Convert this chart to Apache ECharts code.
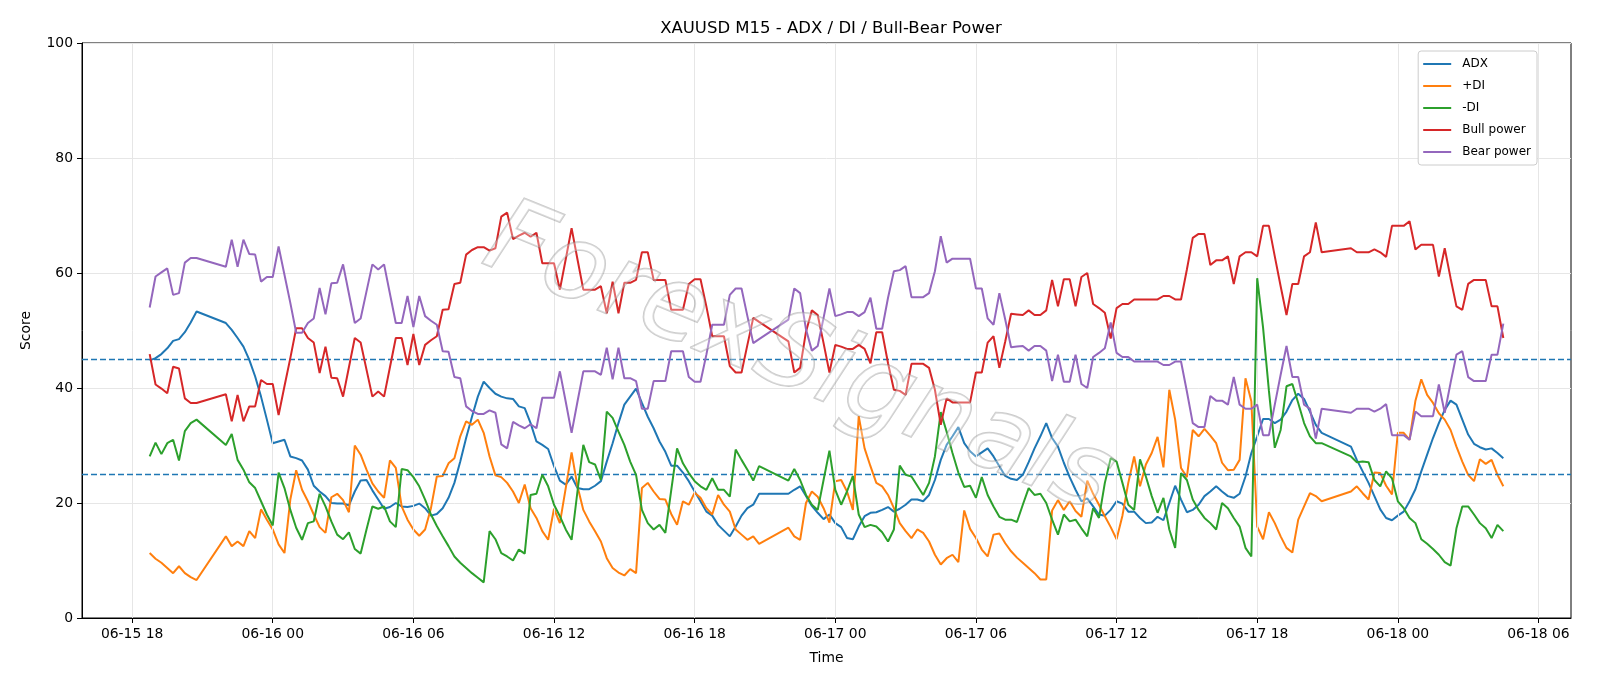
<!DOCTYPE html>
<html>
<head>
<meta charset="utf-8">
<title>XAUUSD M15 - ADX / DI / Bull-Bear Power</title>
<script src="https://cdn.jsdelivr.net/npm/echarts@6/dist/echarts.min.js"></script>
<style>
html, body { margin: 0; padding: 0; background: #fff; }
#chart { width: 1600px; height: 686px; }
</style>
</head>
<body>
<div id="chart"></div>
<script>
// 15-minute bars; the market closes every day 21:00-22:00 so there are gaps
const SESSIONS = [
  ['06-15 18:45', '06-15 20:45'],
  ['06-15 22:00', '06-16 20:45'],
  ['06-16 22:00', '06-17 20:45'],
  ['06-17 22:00', '06-18 04:30']
]

const ADX = [
  44.8, 45.2, 45.9, 46.9, 48.2, 48.5, 49.7, 51.4, 53.3,
  51.3, 50.1, 48.7, 47.2, 44.9, 42.0, 38.5, 34.5, 30.4, 30.7, 31.0, 28.1, 27.8, 27.4, 25.8, 23.0,
  22.0, 21.2, 20.0, 19.9, 19.9, 19.6, 22.0, 23.9, 24.0, 22.2, 20.6, 19.0, 19.3, 20.0, 19.4, 19.3,
  19.5, 19.9, 19.1, 17.8, 18.1, 19.1, 20.9, 23.5, 27.2, 31.3, 35.0, 38.5, 41.1, 40.0, 39.0, 38.5,
  38.2, 38.1, 36.8, 36.5, 33.9, 30.7, 30.1, 29.4, 26.4, 23.9, 23.2, 24.6, 22.6, 22.4, 22.4, 23.0,
  23.8, 27.2, 30.4, 33.9, 37.1, 38.5, 39.9, 37.4, 35.0, 33.0, 30.7, 28.9, 26.5, 26.5, 25.3, 23.8,
  22.0, 20.3, 18.5, 17.8, 16.2, 15.2, 14.2, 15.9, 17.8, 19.1, 19.7, 21.6,
  21.6, 22.3, 22.9, 21.2, 19.5, 18.3, 17.2, 18.0, 16.5, 15.8, 13.9, 13.7, 15.9, 17.7, 18.3, 18.4,
  18.8, 19.3, 18.5, 19.0, 19.7, 20.6, 20.6, 20.3, 21.4, 24.0, 27.5, 30.1, 31.6, 33.2, 30.4, 29.0,
  28.1, 28.8, 29.5, 28.1, 26.4, 24.7, 24.2, 24.0, 24.9, 27.1, 29.5, 31.6, 33.9, 31.3, 29.8, 27.0,
  24.5, 22.3, 20.3, 20.8, 19.4, 18.0, 17.8, 18.8, 20.3, 19.9, 18.5, 18.5, 17.4, 16.5, 16.6, 17.6,
  17.0, 20.0, 23.0, 20.6, 18.4, 18.8, 19.7, 21.2, 22.0, 22.9, 22.0, 21.2, 20.9, 21.6, 24.6, 28.7,
  31.6, 34.6, 34.6, 33.9, 34.5, 35.9, 37.9, 39.0, 38.1, 35.9, 33.6, 32.2,
  29.8, 27.5, 25.5, 23.5, 21.2, 18.9, 17.4, 17.0, 17.8, 18.5, 20.3, 22.4, 25.5, 28.4, 31.3, 33.9,
  36.2, 37.8, 37.1, 34.5, 31.9, 30.3, 29.7, 29.3, 29.5, 28.7, 27.8
]

const PLUS_DI = [
  11.3, 10.3, 9.6, 8.7, 7.8, 9.0, 7.8, 7.1, 6.6,
  14.2, 12.5, 13.3, 12.5, 15.1, 13.9, 18.9, 17.1, 15.4, 12.8, 11.3, 20.6, 25.7, 22.3, 20.3, 18.0,
  15.8, 14.8, 21.0, 21.6, 20.5, 18.4, 30.0, 28.4, 25.8, 23.4, 22.0, 20.9, 27.4, 26.1, 19.4, 17.1,
  15.4, 14.3, 15.4, 19.1, 24.6, 24.7, 26.9, 27.8, 31.6, 34.2, 33.6, 34.5, 32.2, 28.1, 24.8, 24.5,
  23.5, 22.0, 20.0, 23.2, 19.1, 17.4, 15.1, 13.6, 19.0, 16.5, 22.6, 28.8, 22.9, 18.8, 16.8, 15.1,
  13.3, 10.4, 8.7, 7.9, 7.4, 8.5, 7.8, 22.6, 23.5, 22.0, 20.7, 20.6, 18.1, 16.2, 20.3, 19.7,
  21.8, 20.9, 19.1, 18.0, 21.4, 19.7, 18.5, 15.4, 14.5, 13.6, 14.2, 12.9,
  15.7, 14.2, 13.6, 20.0, 22.0, 21.1, 19.1, 16.6, 23.8, 24.0, 22.0, 18.8, 35.1, 29.5, 26.4, 23.5,
  22.9, 21.4, 19.1, 16.5, 15.1, 13.9, 15.4, 14.8, 13.3, 11.0, 9.3, 10.4, 11.0, 9.7, 18.7, 15.5,
  13.9, 11.9, 10.7, 14.5, 14.7, 13.0, 11.6, 10.5, 9.6, 8.7, 7.8, 6.7, 6.7, 18.7, 20.5, 18.8,
  20.3, 18.6, 17.6, 23.9, 21.6, 19.7, 17.7, 15.8, 13.7, 17.8, 23.5, 28.1, 22.9, 26.7, 28.7, 31.5,
  26.2, 39.7, 34.5, 26.1, 24.5, 32.7, 31.6, 32.9, 31.7, 30.4, 27.0, 25.7, 25.8, 27.5, 41.7, 37.7,
  15.9, 13.7, 18.4, 16.5, 14.2, 12.2, 11.4, 17.1, 19.4, 21.7, 21.2, 20.3,
  22.0, 22.9, 21.7, 20.6, 25.3, 25.2, 23.0, 21.5, 32.2, 32.2, 31.0, 37.8, 41.5, 38.8, 37.4, 35.6,
  34.5, 32.7, 29.8, 27.2, 24.9, 23.8, 27.6, 26.8, 27.5, 24.9, 22.9
]

const MINUS_DI = [
  28.1, 30.5, 28.5, 30.4, 31.0, 27.4, 32.5, 33.9, 34.5,
  30.1, 32.0, 27.5, 25.8, 23.6, 22.6, 20.3, 18.0, 16.1, 25.3, 22.6, 18.8, 15.7, 13.6, 16.5, 16.8,
  21.6, 19.4, 16.8, 14.5, 13.7, 14.9, 12.0, 11.2, 15.4, 19.4, 19.0, 19.4, 16.8, 15.8, 25.9, 25.7,
  24.5, 22.9, 20.6, 18.0, 16.0, 14.2, 12.5, 10.7, 9.6, 8.7, 7.8, 7.0, 6.2, 15.1, 13.7, 11.3,
  10.7, 10.0, 11.9, 11.2, 21.4, 21.6, 24.9, 22.9, 19.7, 17.7, 15.4, 13.6, 22.0, 30.1, 27.1, 26.7,
  24.0, 35.9, 34.8, 32.4, 30.1, 27.2, 24.9, 18.8, 16.5, 15.4, 16.2, 14.8, 22.2, 29.5, 26.9, 25.2,
  23.8, 22.9, 22.3, 24.3, 22.3, 22.3, 21.1, 29.3, 27.5, 25.8, 23.9, 26.4,
  23.9, 25.9, 24.0, 21.4, 19.7, 18.8, 24.0, 29.1, 22.3, 19.7, 22.0, 24.7, 18.0, 15.8, 16.2, 15.9,
  14.9, 13.3, 15.4, 26.5, 24.9, 24.6, 23.0, 21.4, 23.5, 28.1, 35.8, 32.4, 28.7, 25.3, 22.8, 23.0,
  20.9, 24.5, 21.4, 19.4, 17.6, 17.1, 17.1, 16.7, 19.7, 22.6, 21.4, 21.6, 20.0, 17.1, 14.5, 18.0,
  16.8, 17.1, 15.6, 14.2, 19.1, 17.4, 23.5, 27.8, 27.2, 23.5, 19.7, 18.8, 27.6, 24.6, 21.2, 18.3,
  20.9, 15.4, 12.2, 25.2, 24.0, 20.6, 18.8, 17.4, 16.5, 15.4, 20.0, 19.1, 17.4, 15.9, 12.2, 10.7,
  59.1, 50.5, 39.5, 29.6, 32.7, 40.3, 40.7, 37.4, 33.9, 31.6, 30.4, 30.4,
  28.1, 27.1, 27.2, 27.1, 24.0, 22.9, 25.5, 24.3, 20.3, 19.1, 17.4, 16.5, 13.7, 12.9, 12.0, 11.0,
  9.7, 9.1, 15.6, 19.4, 19.4, 18.0, 16.5, 15.6, 13.9, 16.2, 15.1
]

const BULL = [
  45.9, 40.6, 39.9, 39.1, 43.7, 43.4, 38.2, 37.4, 37.4,
  38.9, 34.2, 38.8, 34.2, 36.8, 36.8, 41.4, 40.7, 40.7, 35.3, 40.3, 45.2, 50.4, 50.4, 48.7, 47.9,
  42.6, 47.2, 41.8, 41.7, 38.5, 43.6, 48.7, 47.9, 43.2, 38.5, 39.4, 38.5, 43.6, 48.7, 48.7, 44.0,
  49.4, 44.0, 47.5, 48.3, 49.0, 53.6, 53.7, 58.1, 58.3, 63.2, 64.0, 64.5, 64.5, 63.9, 64.3, 69.8,
  70.5, 65.9, 66.5, 67.0, 66.3, 67.0, 61.7, 61.7, 61.7, 57.1, 62.4, 67.8, 62.4, 57.1, 57.1, 57.1,
  57.7, 53.0, 58.5, 53.0, 58.3, 58.3, 58.8, 63.6, 63.6, 58.8, 58.8, 58.8, 53.6, 53.6, 53.6, 58.1,
  58.9, 58.9, 54.2, 49.0, 49.0, 49.0, 43.8, 42.7, 42.7, 47.5, 52.2, 51.5,
  48.1, 42.7, 43.5, 49.8, 53.5, 52.7, 47.8, 42.7, 47.5, 47.2, 46.8, 46.8, 47.5, 46.8, 44.3, 49.7,
  49.7, 44.3, 39.7, 39.5, 38.8, 44.2, 44.2, 44.2, 43.5, 39.7, 33.6, 38.2, 37.5, 37.5, 37.5, 37.5,
  42.7, 42.7, 47.9, 49.0, 43.5, 48.1, 52.9, 52.8, 52.7, 53.5, 52.7, 52.7, 53.5, 58.8, 54.2, 58.9,
  58.9, 54.2, 59.3, 60.0, 54.6, 53.9, 53.1, 48.6, 53.9, 54.6, 54.6, 55.4, 55.4, 55.4, 55.4, 55.4,
  56.0, 56.0, 55.4, 55.4, 60.6, 66.1, 66.8, 66.8, 61.4, 62.2, 62.2, 62.9, 58.1, 62.9, 63.6, 63.6,
  62.9, 68.2, 68.2, 62.9, 57.7, 52.7, 58.1, 58.1, 62.9, 63.6, 68.8, 63.6,
  64.3, 63.6, 63.6, 63.6, 64.1, 63.6, 62.8, 68.2, 68.2, 68.2, 69.0, 64.1, 64.9, 64.9, 64.9, 59.4,
  64.3, 59.1, 54.2, 53.6, 58.1, 58.8, 58.8, 58.8, 54.2, 54.2, 48.7
]

const BEAR = [
  54.0, 59.4, 60.1, 60.8, 56.2, 56.5, 61.8, 62.6, 62.6,
  61.1, 65.8, 61.1, 65.8, 63.3, 63.2, 58.5, 59.3, 59.3, 64.6, 59.7, 54.8, 49.6, 49.6, 51.3, 52.1,
  57.4, 52.8, 58.2, 58.3, 61.5, 56.4, 51.3, 52.1, 56.8, 61.5, 60.6, 61.5, 56.4, 51.3, 51.3, 56.0,
  50.6, 56.0, 52.5, 51.7, 51.0, 46.4, 46.3, 41.9, 41.7, 36.8, 36.0, 35.5, 35.5, 36.1, 35.7, 30.2,
  29.5, 34.1, 33.5, 33.0, 33.7, 33.0, 38.3, 38.3, 38.3, 42.9, 37.6, 32.2, 37.6, 42.9, 42.9, 42.9,
  42.3, 47.0, 41.5, 47.0, 41.7, 41.7, 41.2, 36.4, 36.4, 41.2, 41.2, 41.2, 46.4, 46.4, 46.4, 41.9,
  41.1, 41.1, 45.8, 51.0, 51.0, 51.0, 56.2, 57.3, 57.3, 52.5, 47.8, 48.5,
  51.9, 57.3, 56.5, 50.2, 46.5, 47.3, 52.2, 57.3, 52.5, 52.8, 53.2, 53.2, 52.5, 53.2, 55.7, 50.3,
  50.3, 55.7, 60.3, 60.5, 61.2, 55.8, 55.8, 55.8, 56.5, 60.3, 66.4, 61.8, 62.5, 62.5, 62.5, 62.5,
  57.3, 57.3, 52.1, 51.0, 56.5, 51.9, 47.1, 47.2, 47.3, 46.5, 47.3, 47.3, 46.5, 41.2, 45.8, 41.1,
  41.1, 45.8, 40.7, 40.0, 45.4, 46.1, 46.9, 51.4, 46.1, 45.4, 45.4, 44.6, 44.6, 44.6, 44.6, 44.6,
  44.0, 44.0, 44.6, 44.6, 39.4, 33.9, 33.2, 33.2, 38.6, 37.8, 37.8, 37.1, 41.9, 37.1, 36.4, 36.4,
  37.1, 31.8, 31.8, 37.1, 42.3, 47.3, 41.9, 41.9, 37.1, 36.4, 31.2, 36.4,
  35.7, 36.4, 36.4, 36.4, 35.9, 36.4, 37.2, 31.8, 31.8, 31.8, 31.0, 35.9, 35.1, 35.1, 35.1, 40.6,
  35.7, 40.9, 45.8, 46.4, 41.9, 41.2, 41.2, 41.2, 45.8, 45.8, 51.2
]

const X_TICK_LABELS = ['06-15 18', '06-16 00', '06-16 06', '06-16 12', '06-16 18', '06-17 00',
  '06-17 06', '06-17 12', '06-17 18', '06-18 00', '06-18 06']
const Y_TICKS = [0, 20, 40, 60, 80, 100]
const LEVELS = [25, 45]

const FONT = 'DejaVu Sans'
const COLORS = ['#1f77b4', '#ff7f0e', '#2ca02c', '#d62728', '#9467bd']

// hours counted from 06-15 00:00
function hoursOf(stamp) {
  const day = +stamp.slice(3, 5)
  const hh = +stamp.slice(6, 8)
  const mm = stamp.length > 8 ? +stamp.slice(9, 11) : 0
  return (day - 15) * 24 + hh + mm / 60
}
function labelOf(h) {
  const day = 15 + Math.floor(h / 24)
  const hr = Math.round(h - (day - 15) * 24)
  return '06-' + day + ' ' + String(hr).padStart(2, '0')
}

const times = []
SESSIONS.forEach(([a, b]) => {
  for (let h = hoursOf(a); h <= hoursOf(b) + 1e-6; h += 0.25) times.push(h)
})
const tickHours = X_TICK_LABELS.map(hoursOf)
const span = times[times.length - 1] - times[0]
const xMin = times[0] - span * 0.05
const xMax = times[times.length - 1] + span * 0.05

const pairs = vals => vals.map((v, i) => [times[i], v])

const chart = echarts.init(document.getElementById('chart'))
const lines = [
  ['ADX', ADX], ['+DI', PLUS_DI], ['-DI', MINUS_DI], ['Bull power', BULL], ['Bear power', BEAR]
].map(([name, vals], i) => ({
  name, type: 'line', data: pairs(vals), symbol: 'none', z: 3 + i,
  lineStyle: { color: COLORS[i], width: 2 }, itemStyle: { color: COLORS[i] },
  emphasis: { disabled: true }
}))

chart.setOption({
  animation: false,
  textStyle: { fontFamily: FONT },
  title: {
    text: 'XAUUSD M15 - ADX / DI / Bull-Bear Power',
    left: 826, top: 15, textAlign: 'center',
    textStyle: { fontFamily: FONT, fontSize: 16.5, fontWeight: 'normal', color: '#000' }
  },
  legend: {
    data: lines.map(s => s.name),
    orient: 'vertical', right: 63, top: 51,
    icon: 'rect', itemWidth: 28, itemHeight: 2, itemGap: 8,
    padding: [6, 6, 6, 5],
    backgroundColor: '#fff', borderColor: '#cccccc', borderWidth: 1, borderRadius: 3,
    textStyle: { fontFamily: FONT, fontSize: 12, lineHeight: 14, color: '#000', padding: [0, 0, 0, 6] }
  },
  grid: { left: 82, right: 29, top: 43, bottom: 68, show: true, borderColor: '#000', borderWidth: 1 },
  xAxis: {
    type: 'value', min: xMin, max: xMax,
    name: 'Time', nameLocation: 'middle', nameGap: 33,
    nameTextStyle: { fontFamily: FONT, fontSize: 13.9, color: '#000' },
    axisLine: { onZero: false, lineStyle: { color: '#000', width: 1 } },
    axisTick: { customValues: tickHours, length: 5, lineStyle: { color: '#000' } },
    axisLabel: { customValues: tickHours, formatter: labelOf, color: '#000', fontSize: 13.9, margin: 9 },
    splitLine: { show: false }
  },
  yAxis: {
    type: 'value', min: 0, max: 100, interval: 20,
    name: 'Score', nameLocation: 'middle', nameGap: 49, nameRotate: 90,
    nameTextStyle: { fontFamily: FONT, fontSize: 13.9, color: '#000' },
    axisLine: { show: true, lineStyle: { color: '#000', width: 1 } },
    axisTick: { show: true, length: 5, lineStyle: { color: '#000' } },
    axisLabel: { color: '#000', fontSize: 13.9, margin: 9,
      formatter: v => Y_TICKS.includes(v) ? String(v) : '' },
    splitLine: { lineStyle: { color: '#e6e6e6', width: 1 } }
  },
  graphic: [{
    type: 'text', x: 798, y: 362, rotation: -0.385, z: 100, silent: true,
    style: {
      text: 'ForexSignals', font: 'italic 104px "DejaVu Sans"',
      fill: 'rgba(255,255,255,0.3)', stroke: 'rgba(130,130,130,0.42)', lineWidth: 1.8,
      align: 'center', verticalAlign: 'middle'
    }
  }],
  series: [
    {
      type: 'line', data: [], z: 1, silent: true,
      markLine: {
        silent: true, symbol: 'none', label: { show: false },
        lineStyle: { color: '#e6e6e6', width: 1, type: 'solid' },
        data: tickHours.map(h => ({ xAxis: h }))
      }
    },
    ...lines,
    {
      type: 'line', data: [], z: 9, silent: true,
      markLine: {
        silent: true, symbol: 'none', label: { show: false },
        lineStyle: { color: '#1f77b4', width: 1.3, type: [6, 3] },
        data: LEVELS.map(v => ({ yAxis: v }))
      }
    }
  ]
})
</script>
</body>
</html>
